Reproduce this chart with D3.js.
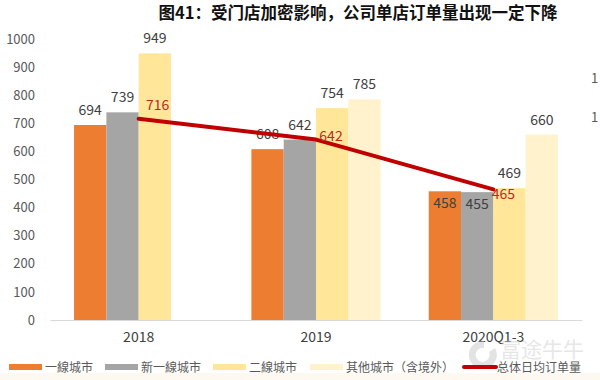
<!DOCTYPE html>
<html><head><meta charset="utf-8">
<script src="https://cdn.jsdelivr.net/npm/d3@7/dist/d3.min.js"></script>
<style>
html,body{margin:0;padding:0;background:#fff;}
svg{display:block;}
text{font-family:"Noto Sans CJK SC","Noto Sans",sans-serif;}
</style></head>
<body>
<svg id="chart" width="600" height="380"></svg>
<script>
const title = "图41：受门店加密影响，公司单店订单量出现一定下降";
const categories = ["2018", "2019", "2020Q1-3"];
const seriesNames = ["一線城市", "新一線城市", "二線城市", "其他城市（含境外）"];
const tier1 = [694, 608, 458];
const newTier1 = [739, 642, 455];
const tier2 = [949, 754, 469];
const others = [null, 785, 660];
const lineName = "总体日均订单量";
const lineValues = [716, 642, 465];
const yTicks = [0, 100, 200, 300, 400, 500, 600, 700, 800, 900, 1000];

const colors = ["#ED7D31", "#A5A5A5", "#FFE699", "#FFF2CC"];
const lineColor = "#C00000";
const seriesValues = [tier1, newTier1, tier2, others];

const svg = d3.select("#chart");

svg.append("rect").attr("x", 0).attr("y", 373).attr("width", 600).attr("height", 7).attr("fill", "#fdf9f1");

svg.append("text").attr("x", 358).attr("y", 19).attr("text-anchor", "middle")
  .attr("font-size", 16.5).attr("font-weight", "bold").attr("fill", "#111").text(title);

const y = d3.scaleLinear().domain([0, 1000]).range([320, 39]);
const x0 = d3.scaleBand().domain(categories).range([50, 582]).paddingInner(0).paddingOuter(0);
const x1 = d3.scaleBand().domain(d3.range(4)).range([0, x0.bandwidth()]).paddingInner(0).paddingOuter(0.745);

const yAxis = d3.axisLeft(y).tickValues(yTicks).tickFormat(d3.format("d")).tickSize(0).tickPadding(0);
const ya = svg.append("g").attr("transform", "translate(35,0)").call(yAxis);
ya.select(".domain").remove();
ya.selectAll("text").attr("font-size", 13).attr("fill", "#595959")
  .attr("font-family", "'Noto Sans','Open Sans',sans-serif");

[78, 117].forEach(v => svg.append("text").attr("x", 591).attr("y", v + 5).attr("font-size", 13)
  .attr("fill", "#595959").attr("font-family", "'Noto Sans',sans-serif").text("1"));

const xa = svg.append("g").attr("transform", "translate(0,320)").call(d3.axisBottom(x0).tickSize(0).tickPadding(12));
xa.select(".domain").attr("stroke", "#d9d9d9").attr("stroke-width", 1);
xa.selectAll("text").attr("font-size", 14).attr("fill", "#404040")
  .attr("font-family", "'Noto Sans','Open Sans',sans-serif");

const barData = [];
seriesValues.forEach((vals, si) => vals.forEach((v, ci) => {
  if (v != null) barData.push({si, ci, v});
}));
svg.append("g").selectAll("rect").data(barData).join("rect")
  .attr("x", d => x0(categories[d.ci]) + x1(d.si))
  .attr("y", d => y(d.v))
  .attr("width", x1.bandwidth())
  .attr("height", d => y(0) - y(d.v))
  .attr("fill", d => colors[d.si]);

const inside = d => d.ci === 2 && d.si < 2;
svg.append("g").selectAll("text").data(barData).join("text")
  .attr("x", d => x0(categories[d.ci]) + x1(d.si) + x1.bandwidth() / 2)
  .attr("y", d => inside(d) ? y(d.v) + 17 : y(d.v) - 10)
  .attr("text-anchor", "middle").attr("font-size", 14).attr("fill", "#404040")
  .attr("font-family", "'Noto Sans','Open Sans',sans-serif")
  .text(d => d.v);

const cx = c => x0(c) + x0.bandwidth() / 2;
const line = d3.line().x((d, i) => cx(categories[i])).y(d => y(d));
svg.append("path").datum(lineValues).attr("d", line)
  .attr("fill", "none").attr("stroke", lineColor).attr("stroke-width", 4)
  .attr("stroke-linecap", "round").attr("stroke-linejoin", "round");

const lblOff = [[19, -9], [15, 1], [10, 10]];
svg.append("g").selectAll("text").data(lineValues).join("text")
  .attr("x", (d, i) => cx(categories[i]) + lblOff[i][0])
  .attr("y", (d, i) => y(d) + lblOff[i][1])
  .attr("text-anchor", "middle").attr("font-size", 14).attr("fill", "#C0281E")
  .attr("font-family", "'Noto Sans','Open Sans',sans-serif")
  .text(d => d);

// watermark
const wm = svg.append("g").attr("opacity", 0.5);
wm.append("path").attr("d", "M484,341 a14,14 0 1,0 11,7 l-6,4 a7,7 0 1,1 -5,-4 z").attr("fill", "#c8c8c8");
wm.append("text").attr("x", 500).attr("y", 357).attr("font-size", 21).attr("fill", "#cfcfcf").text("富途牛牛");

// legend
const legX = [9, 105, 213, 310];
const legG = svg.append("g");
seriesNames.forEach((n, i) => {
  legG.append("rect").attr("x", legX[i]).attr("y", 364).attr("width", 33).attr("height", 6).attr("fill", colors[i]);
  legG.append("text").attr("x", legX[i] + 36).attr("y", 371.5).attr("font-size", 12).attr("fill", "#595959").text(n);
});
legG.append("line").attr("x1", 464).attr("x2", 496).attr("y1", 367).attr("y2", 367)
  .attr("stroke", lineColor).attr("stroke-width", 4).attr("stroke-linecap", "round");
legG.append("text").attr("x", 497).attr("y", 371.5).attr("font-size", 12).attr("fill", "#595959").text(lineName);
</script>
</body></html>
